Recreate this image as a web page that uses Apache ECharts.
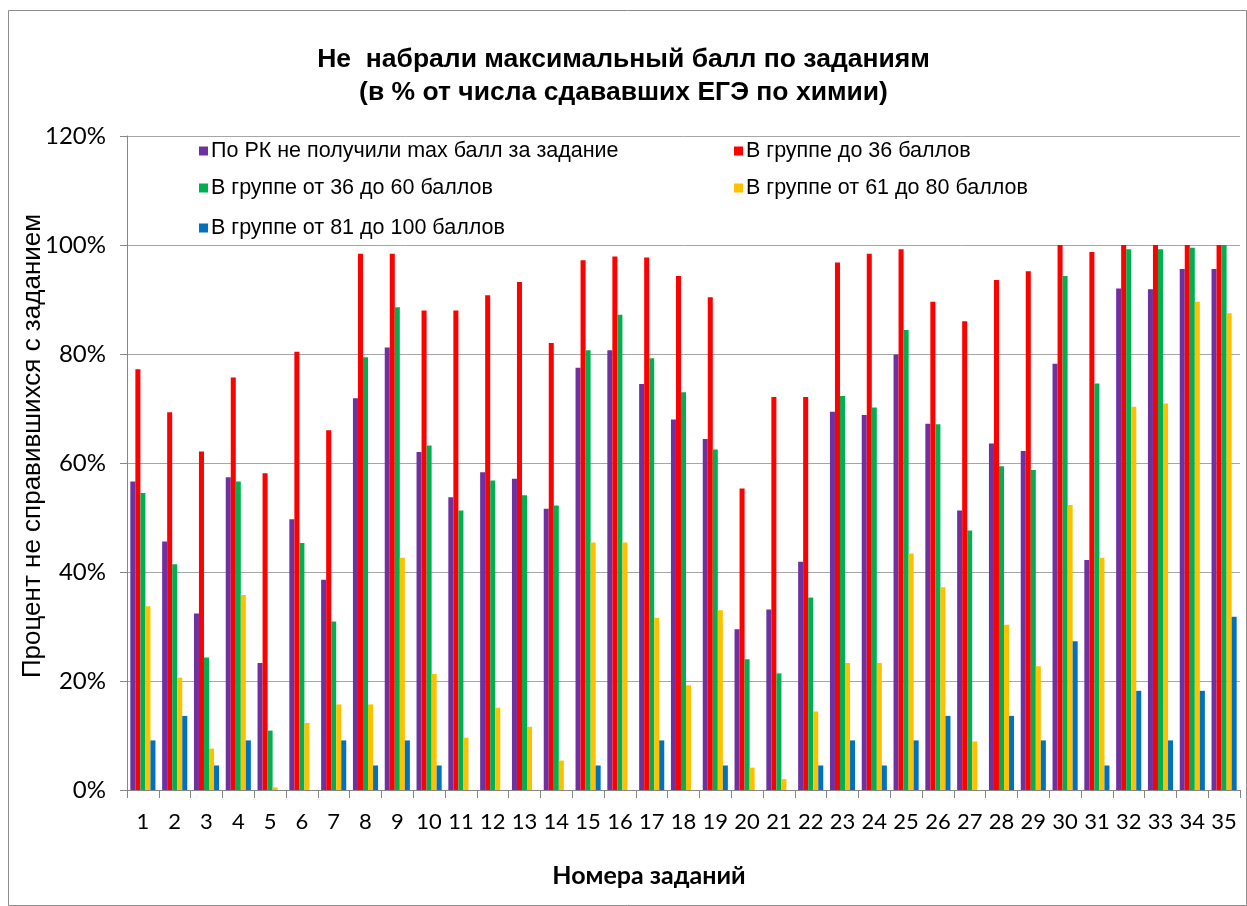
<!DOCTYPE html>
<html>
<head>
<meta charset="utf-8">
<script src="https://cdn.jsdelivr.net/npm/echarts@6/dist/echarts.min.js"></script>
<style>
  html, body { margin: 0; padding: 0; background: #fff; }
  #main { width: 1247px; height: 906px; }
</style>
</head>
<body>
<div id="main"></div>
<script>
// номера заданий
var tasks = [];
for (var i = 1; i <= 35; i++) tasks.push(String(i));

var seriesNames = [
    'По РК не получили max балл за задание',
    'В группе до 36 баллов',
    'В группе от 36 до 60 баллов',
    'В группе от 61 до 80 баллов',
    'В группе от 81 до 100 баллов'
];

// значения в процентах
var allRK = [56.6, 45.6, 32.4, 57.4, 23.3, 49.7, 38.6, 71.9, 81.2, 62.0, 53.7, 58.3, 57.1, 51.6, 77.5, 80.7, 74.5, 68.0, 64.4, 29.5, 33.1, 41.9, 69.4, 68.8, 79.9, 67.2, 51.3, 63.6, 62.2, 78.2, 42.2, 92.0, 91.9, 95.6, 95.6];
var group0_36 = [77.2, 69.3, 62.1, 75.7, 58.1, 80.4, 66.0, 98.4, 98.4, 88.0, 88.0, 90.8, 93.2, 82.0, 97.2, 97.9, 97.7, 94.3, 90.4, 55.3, 72.1, 72.1, 96.8, 98.4, 99.2, 89.6, 86.0, 93.6, 95.2, 100, 98.7, 100, 100, 100, 100];
var group36_60 = [54.5, 41.4, 24.3, 56.6, 10.9, 45.3, 30.9, 79.4, 88.6, 63.2, 51.3, 56.8, 54.1, 52.2, 80.7, 87.2, 79.2, 73.0, 62.5, 24.0, 21.4, 35.3, 72.3, 70.2, 84.4, 67.1, 47.6, 59.4, 58.7, 94.3, 74.6, 99.2, 99.2, 99.5, 100];
var group61_80 = [33.7, 20.6, 7.6, 35.8, 0.5, 12.3, 15.7, 15.7, 42.6, 21.3, 9.6, 15.1, 11.6, 5.4, 45.4, 45.4, 31.6, 19.2, 33.0, 4.1, 2.0, 14.4, 23.3, 23.3, 43.4, 37.2, 8.9, 30.3, 22.7, 52.3, 42.6, 70.3, 70.9, 89.6, 87.5];
var group81_100 = [9.1, 13.6, 4.5, 9.1, 0, 0, 9.1, 4.5, 9.1, 4.5, 0, 0, 0, 0, 4.5, 0, 9.1, 0, 4.5, 0, 0, 4.5, 9.1, 4.5, 9.1, 13.6, 0, 13.6, 9.1, 27.3, 4.5, 18.2, 9.1, 18.2, 31.8];

var seriesData = [allRK, group0_36, group36_60, group61_80, group81_100];
var colors = ['#7030A0', '#FF0000', '#00B050', '#FFC000', '#0070C0'];

// позиции легенды (2 колонки)
var legendPos = [
    { left: 199, top: 140 },
    { left: 734, top: 140 },
    { left: 199, top: 177 },
    { left: 734, top: 177 },
    { left: 199, top: 217 }
];

var chart = echarts.init(document.getElementById('main'));

var legends = seriesNames.map(function (name, idx) {
    return {
        data: [name],
        left: legendPos[idx].left,
        top: legendPos[idx].top,
        icon: 'rect',
        itemWidth: 9,
        itemHeight: 9,
        itemGap: 0,
        padding: 0,
        selectedMode: false,
        textStyle: {
            fontFamily: 'Liberation Sans, Arial',
            fontSize: 21.5,
            color: '#000',
            padding: [0, 0, 0, -2]
        }
    };
});

var series = seriesNames.map(function (name, idx) {
    return {
        name: name,
        type: 'bar',
        data: seriesData[idx],
        barGap: '0%',
        barCategoryGap: '21%',
        itemStyle: { color: colors[idx] }
    };
});

var option = {
    animation: false,
    color: colors,
    title: {
        text: 'Не  набрали максимальный балл по заданиям\n(в % от числа сдававших ЕГЭ по химии)',
        left: 'center',
        top: 38,
        textStyle: {
            fontFamily: 'Liberation Sans, Arial',
            fontWeight: 'bold',
            fontSize: 26.5,
            lineHeight: 33,
            color: '#000'
        }
    },
    legend: legends,
    graphic: [{
        type: 'rect',
        shape: { x: 8.5, y: 10.5, width: 1238, height: 895 },
        style: { fill: 'none', stroke: '#8c8c8c', lineWidth: 1 },
        silent: true
    }, {
        // подпись оси Y
        type: 'text',
        x: 33,
        y: 446,
        rotation: Math.PI / 2,
        silent: true,
        style: {
            text: 'Процент не справившихся с заданием',
            fontFamily: 'Liberation Sans, Arial',
            fontSize: 26,
            fill: '#000',
            align: 'center',
            verticalAlign: 'middle'
        }
    }, {
        // подпись оси X
        type: 'text',
        x: 649,
        y: 876,
        silent: true,
        style: {
            text: 'Номера заданий',
            fontFamily: 'Lato, Carlito, Calibri',
            fontWeight: 'bold',
            fontSize: 25,
            fill: '#000',
            align: 'center',
            verticalAlign: 'middle'
        }
    }],
    grid: {
        left: 127,
        right: 7,
        top: 136,
        bottom: 116
    },
    xAxis: {
        type: 'category',
        data: tasks,
        boundaryGap: true,
        axisLine: { lineStyle: { color: '#868686', width: 1 } },
        axisTick: { show: true, alignWithLabel: false, length: 8, lineStyle: { color: '#868686' } },
        axisLabel: {
            margin: 21,
            fontFamily: 'Lato, Carlito, Calibri',
            fontSize: 22,
            color: '#000',
            interval: 0
        }
    },
    yAxis: {
        type: 'value',
        min: 0,
        max: 120,
        interval: 20,
        axisLine: { show: true, lineStyle: { color: '#868686', width: 1 } },
        axisTick: { show: true, length: 7, lineStyle: { color: '#868686' } },
        splitLine: { show: true, lineStyle: { color: '#a6a6a6', width: 1 } },
        axisLabel: {
            margin: 21,
            formatter: '{value}%',
            fontFamily: 'Lato, Carlito, Calibri',
            fontSize: 24,
            color: '#000'
        }
    },
    series: series
};

chart.setOption(option);
</script>
</body>
</html>
